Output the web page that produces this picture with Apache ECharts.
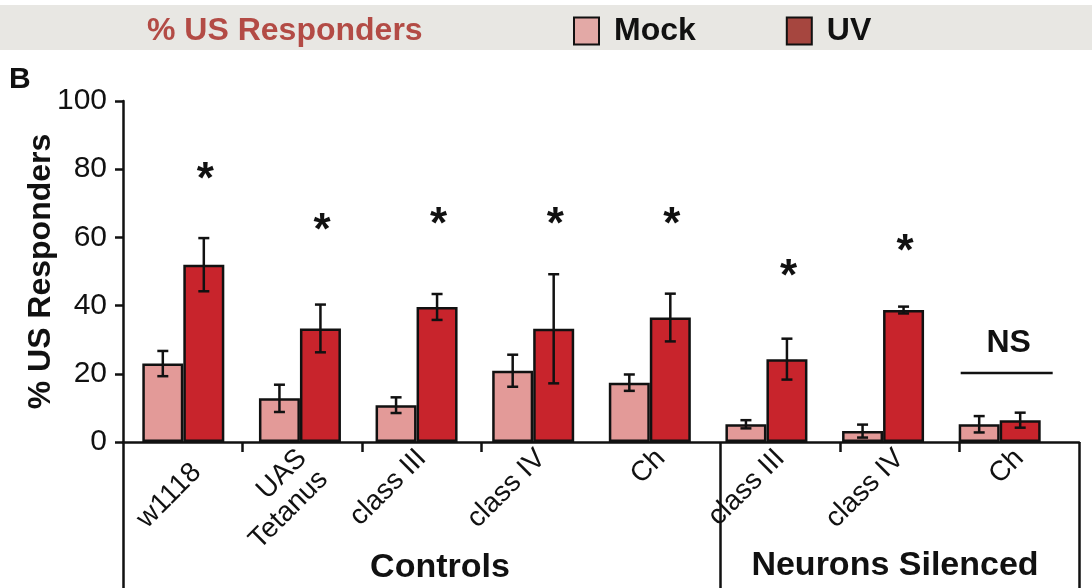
<!DOCTYPE html>
<html>
<head>
<meta charset="utf-8">
<script src="https://cdn.jsdelivr.net/npm/echarts@6/dist/echarts.min.js"></script>
<style>
html,body{margin:0;padding:0;background:#fff;}
#chart{width:1092px;height:588px;}
</style>
</head>
<body>
<div id="chart"></div>
<script>
// ---- data ----
const categories = ['w1118', 'UAS\nTetanus', 'class III', 'class IV', 'Ch', 'class III', 'class IV', 'Ch'];
const mock    = [23.0, 12.8, 10.8, 20.9, 17.4, 5.2, 3.2, 5.2];
const mockErr = [3.7, 4.0, 2.3, 4.7, 2.4, 1.2, 1.9, 2.4];
const uv      = [52.0, 33.3, 39.6, 33.2, 36.5, 24.3, 38.7, 6.4];
const uvErr   = [7.8, 7.0, 3.8, 16.0, 7.0, 6.0, 1.0, 2.2];
const sigLabels = ['*', '*', '*', '*', '*', '*', '*', 'NS'];
const sigY      = [79, 64, 65.6, 65.6, 65.6, 50.4, 57.7, 29];
const nsLineY   = 20.2;
const yTicks = [0, 20, 40, 60, 80, 100];
const groupLabels = ['Controls', 'Neurons Silenced'];
const seriesNames = ['Mock', 'UV'];

const FONT = "'Liberation Sans', Arial, Helvetica, sans-serif";
const chart = echarts.init(document.getElementById('chart'), null, {renderer: 'canvas'});

const errData = [];
mock.forEach((v, i) => errData.push([i, v, mockErr[i], -1]));
uv.forEach((v, i) => errData.push([i, v, uvErr[i], 1]));
const sigData = sigY.map((y, i) => [i, y, sigLabels[i]]);

const shortTicks = [1, 2, 3, 6, 7];
const longTicks = [0, 5];

function xLabelFormatter(val, idx) {
  if (idx === 0) return '{a|' + val + '}';
  if (idx === 1) return '\n' + val;
  return val;
}

const option = {
  animation: false,
  backgroundColor: '#ffffff',
  title: [
    {text: '% US Responders', left: 147, top: 15, padding: 0,
     textStyle: {fontFamily: FONT, fontSize: 32, fontWeight: 'bold', color: '#b34b45'}},
    {text: 'B', left: 9, top: 65, padding: 0,
     textStyle: {fontFamily: FONT, fontSize: 30, fontWeight: 'bold', color: '#111'}}
  ],
  legend: {
    data: [
      {name: seriesNames[0], itemStyle: {color: '#e3a9a6', borderColor: '#111', borderWidth: 2}},
      {name: seriesNames[1], itemStyle: {color: '#a6463f', borderColor: '#111', borderWidth: 2}}
    ],
    left: 573, top: 15, padding: 0, icon: 'rect', itemWidth: 25, itemHeight: 27, itemGap: 90,
    textStyle: {fontFamily: FONT, fontSize: 32, fontWeight: 'bold', color: '#111', padding: [0, 0, 0, 10]}
  },
  graphic: [
    {type: 'rect', left: 0, top: 5, shape: {width: 1092, height: 45}, style: {fill: '#e8e7e3'}, z: -10},
    {type: 'text', x: 440, y: 568, style: {text: groupLabels[0], fontFamily: FONT, fontSize: 34, fontWeight: 'bold', fill: '#111', textAlign: 'center', textVerticalAlign: 'middle'}},
    {type: 'text', x: 895, y: 566, style: {text: groupLabels[1], fontFamily: FONT, fontSize: 34, fontWeight: 'bold', fill: '#111', textAlign: 'center', textVerticalAlign: 'middle'}}
  ],
  grid: [
    {left: 123, right: 13, top: 101, bottom: 146},
    {left: 125, right: 34, top: 101, bottom: 146}
  ],
  xAxis: [
    {type: 'category', gridIndex: 0, data: categories, position: 'bottom',
     axisLine: {show: true, lineStyle: {color: '#111', width: 2.5}},
     axisTick: {show: true, length: 10, lineStyle: {color: '#111', width: 2.5},
                interval: (idx) => shortTicks.indexOf(idx) >= 0},
     axisLabel: {interval: 0, rotate: 45, fontFamily: FONT, fontSize: 28, color: '#111', margin: 12, lineHeight: 30,
                 formatter: xLabelFormatter,
                 rich: {
                   a: {fontFamily: FONT, fontSize: 28, color: '#111', padding: [40, 0, 0, 0]}
                 }}
    },
    {type: 'category', gridIndex: 0, data: categories, position: 'bottom',
     axisLine: {show: false},
     axisTick: {show: true, length: 146, lineStyle: {color: '#111', width: 2.5},
                interval: (idx) => longTicks.indexOf(idx) >= 0},
     axisLabel: {show: false}
    },
    {type: 'category', gridIndex: 1, data: categories, show: false}
  ],
  yAxis: [
    {type: 'value', gridIndex: 0, min: yTicks[0], max: yTicks[yTicks.length - 1], interval: 20,
     axisLine: {show: true, lineStyle: {color: '#111', width: 2.5}},
     axisTick: {show: true, length: 8, lineStyle: {color: '#111', width: 2.5}},
     splitLine: {show: false},
     axisLabel: {fontFamily: FONT, fontSize: 30, color: '#111', margin: 16},
     name: '% US Responders', nameLocation: 'middle', nameRotate: 90, nameGap: 66,
     nameMoveOverlap: false,
     nameTextStyle: {fontFamily: FONT, fontSize: 32, fontWeight: 'bold', color: '#111'}
    },
    {type: 'value', gridIndex: 1, min: yTicks[0], max: yTicks[yTicks.length - 1], show: false}
  ],
  series: [
    {name: seriesNames[0], type: 'bar', xAxisIndex: 2, yAxisIndex: 1, data: mock,
     barWidth: 41, barGap: '0%',
     itemStyle: {color: '#e39a98', borderColor: '#111', borderWidth: 2.5}},
    {name: seriesNames[1], type: 'bar', xAxisIndex: 2, yAxisIndex: 1, data: uv,
     barWidth: 41, barGap: '0%',
     itemStyle: {color: '#c8242c', borderColor: '#111', borderWidth: 2.5}},
    {type: 'custom', xAxisIndex: 2, yAxisIndex: 1, data: errData, z: 5,
     renderItem: function (params, api) {
       const i = api.value(0), v = api.value(1), e = api.value(2), side = api.value(3);
       const top = api.coord([i, v + e]);
       const bot = api.coord([i, v - e]);
       const x = top[0] + side * 20.5;
       const cap = 5.5;
       const st = {stroke: '#111', lineWidth: 2.5};
       return {type: 'group', children: [
         {type: 'line', shape: {x1: x, y1: top[1], x2: x, y2: bot[1]}, style: st},
         {type: 'line', shape: {x1: x - cap, y1: top[1], x2: x + cap, y2: top[1]}, style: st},
         {type: 'line', shape: {x1: x - cap, y1: bot[1], x2: x + cap, y2: bot[1]}, style: st}
       ]};
     }
    },
    {type: 'custom', xAxisIndex: 2, yAxisIndex: 1, data: sigData, z: 5,
     renderItem: function (params, api) {
       const i = api.value(0), y = api.value(1);
       const label = sigLabels[params.dataIndex];
       const p = api.coord([i, y]);
       if (label === 'NS') {
         const ly = api.coord([i, nsLineY])[1];
         return {type: 'group', children: [
           {type: 'text', x: p[0] + 9, y: p[1], style: {text: label, fontFamily: FONT, fontSize: 32, fontWeight: 'bold', fill: '#111', textAlign: 'center', textVerticalAlign: 'middle'}},
           {type: 'line', shape: {x1: p[0] - 39, y1: ly, x2: p[0] + 53, y2: ly}, style: {stroke: '#111', lineWidth: 2.5}}
         ]};
       }
       return {type: 'text', x: p[0] + 22, y: p[1] + 8,
               style: {text: label, fontFamily: FONT, fontSize: 44, fontWeight: 'bold', fill: '#111', textAlign: 'center', textVerticalAlign: 'middle'}};
     }
    }
  ]
};
chart.setOption(option);
</script>
</body>
</html>
